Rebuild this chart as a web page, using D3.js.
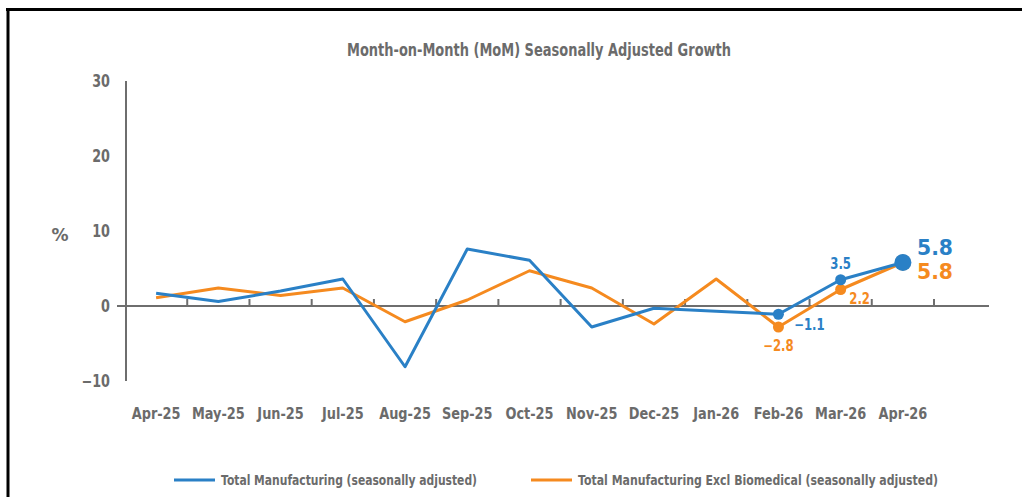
<!DOCTYPE html>
<html><head><meta charset="utf-8">
<script src="https://cdn.jsdelivr.net/npm/d3@7"></script>
<style>
body{margin:0;background:#fff;}
text{font-family:"DejaVu Sans",sans-serif;font-weight:bold;fill:#6b6b6b;}
</style></head><body>
<svg id="c" width="1022" height="497"></svg>
<script>
const months = ["Apr-25","May-25","Jun-25","Jul-25","Aug-25","Sep-25","Oct-25","Nov-25","Dec-25","Jan-26","Feb-26","Mar-26","Apr-26"];
const totalMfg = [1.7, 0.6, 2.0, 3.6, -8.1, 7.6, 6.1, -2.8, -0.3, -0.7, -1.1, 3.5, 5.8];
const exclBiomed = [1.1, 2.4, 1.4, 2.4, -2.1, 0.8, 4.7, 2.4, -2.4, 3.6, -2.8, 2.2, 5.8];
const yTicks = [-10, 0, 10, 20, 30];
const seriesNames = ["Total Manufacturing (seasonally adjusted)", "Total Manufacturing Excl Biomedical (seasonally adjusted)"];
const colors = ["#2a80c6", "#f58a1f"];

const svg = d3.select("#c");
const grey = "#6e6e6e";

// condense helper: squeeze text horizontally
function condense(sel, f){
  sel.each(function(){
    const w = this.getComputedTextLength();
    d3.select(this).attr("textLength", w*f).attr("lengthAdjust","spacingAndGlyphs");
  });
  return sel;
}

// frame
svg.append("line").attr("x1",6).attr("x2",1022).attr("y1",9.5).attr("y2",9.5).attr("stroke","#000").attr("stroke-width",3);
svg.append("line").attr("x1",8).attr("x2",8).attr("y1",8).attr("y2",497).attr("stroke","#000").attr("stroke-width",3);

const x = d3.scaleBand().domain(months).range([125, 934]);
const y = d3.scaleLinear().domain([-10, 30]).range([381, 81]);

// title
svg.append("text").attr("x",347).attr("y",56).style("font-size","18.5px")
  .attr("textLength",384).attr("lengthAdjust","spacingAndGlyphs")
  .text("Month-on-Month (MoM) Seasonally Adjusted Growth");

// y axis
svg.append("line").attr("x1",126).attr("x2",126).attr("y1",y(30)).attr("y2",y(-10)).attr("stroke",grey).attr("stroke-width",2);
condense(svg.selectAll(".yt").data(yTicks).enter().append("text")
  .attr("x",110).attr("y",d=>y(d)+6).attr("text-anchor","end").style("font-size","17px")
  .text(d=>d<0?"\u2212"+Math.abs(d):d), 0.75);
svg.append("text").attr("x",60).attr("y",241).attr("text-anchor","middle").style("font-size","17px").text("%");

// x axis at zero
svg.append("line").attr("x1",117).attr("x2",989).attr("y1",y(0)).attr("y2",y(0)).attr("stroke",grey).attr("stroke-width",2);
const edges = months.map(m=>x(m)+x.bandwidth());
svg.selectAll(".xt").data(edges).enter().append("line")
  .attr("x1",d=>d).attr("x2",d=>d).attr("y1",y(0)).attr("y2",y(0)-7).attr("stroke",grey).attr("stroke-width",2);
condense(svg.selectAll(".xl").data(months).enter().append("text")
  .attr("x",d=>x(d)+x.bandwidth()/2).attr("y",419).attr("text-anchor","middle").style("font-size","15px").text(d=>d), 0.86);

// lines
const line = d3.line().x((d,i)=>x(months[i])+x.bandwidth()/2).y(d=>y(d));
[[exclBiomed,colors[1]],[totalMfg,colors[0]]].forEach(([s,c])=>{
  svg.append("path").datum(s).attr("d",line).attr("fill","none").attr("stroke",c).attr("stroke-width",3).attr("stroke-linejoin","round");
});
// markers
const cx = m=>x(m)+x.bandwidth()/2;
[["Feb-26",10,5.5],["Mar-26",11,5.5]].forEach(([m,i,r])=>{
  svg.append("circle").attr("cx",cx(m)).attr("cy",y(exclBiomed[i])).attr("r",r).attr("fill",colors[1]);
  svg.append("circle").attr("cx",cx(m)).attr("cy",y(totalMfg[i])).attr("r",r).attr("fill",colors[0]);
});
svg.append("circle").attr("cx",cx("Apr-26")).attr("cy",y(exclBiomed[12])).attr("r",8).attr("fill",colors[1]);
svg.append("circle").attr("cx",cx("Apr-26")).attr("cy",y(totalMfg[12])).attr("r",8.5).attr("fill",colors[0]);

// data labels
const fmt = v=> v<0 ? "\u2212"+Math.abs(v).toFixed(1) : v.toFixed(1);
const lab = (m,v,dx,dy,c)=>condense(svg.append("text").attr("x",cx(m)+dx).attr("y",y(v)+dy).attr("text-anchor","middle").style("font-size","15px").style("fill",c).text(fmt(v)), 0.78);
lab("Mar-26", totalMfg[11], 0, -11, colors[0]);
lab("Mar-26", exclBiomed[11], 19, 14, colors[1]);
lab("Feb-26", totalMfg[10], 31, 16, colors[0]);
lab("Feb-26", exclBiomed[10], 0, 24, colors[1]);
svg.append("text").attr("x",917).attr("y",y(totalMfg[12])-8).style("font-size","21.5px").style("fill",colors[0])
  .attr("textLength",36).attr("lengthAdjust","spacingAndGlyphs").text(fmt(totalMfg[12]));
svg.append("text").attr("x",917).attr("y",y(exclBiomed[12])+16).style("font-size","21.5px").style("fill",colors[1])
  .attr("textLength",36).attr("lengthAdjust","spacingAndGlyphs").text(fmt(exclBiomed[12]));

// legend
const leg = [[174,221,256],[531,578,360]];
seriesNames.forEach((n,i)=>{
  svg.append("line").attr("x1",leg[i][0]).attr("x2",leg[i][0]+41).attr("y1",480).attr("y2",480).attr("stroke",colors[i]).attr("stroke-width",3);
  svg.append("text").attr("x",leg[i][1]).attr("y",485).style("font-size","13.5px")
    .attr("textLength",leg[i][2]).attr("lengthAdjust","spacingAndGlyphs").text(n);
});
</script></body></html>
